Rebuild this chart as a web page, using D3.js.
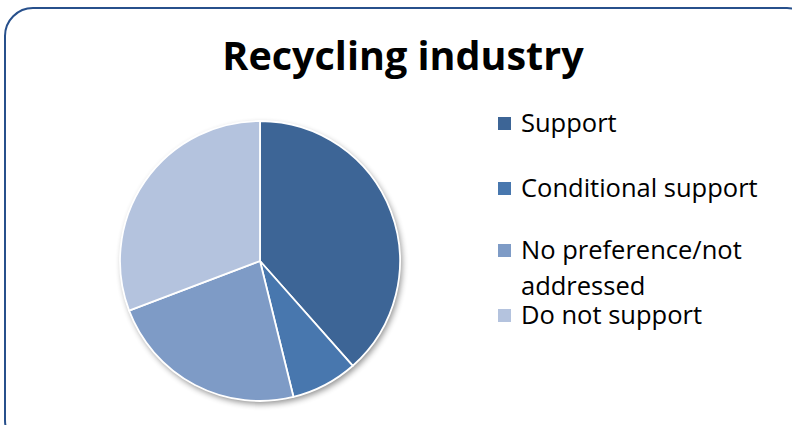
<!DOCTYPE html>
<html>
<head>
<meta charset="utf-8">
<script src="https://cdn.jsdelivr.net/npm/d3@7"></script>
<style>
  html, body { margin: 0; padding: 0; background: #fff; }
  svg { display: block; }
</style>
</head>
<body>
<svg id="chart" width="792" height="425"></svg>
<script>
// Responses on the recycling industry (counts)
const categories = ["Support", "Conditional support", "No preference/not addressed", "Do not support"];
const values = [5, 1, 3, 4];
const legendLines = [["Support"], ["Conditional support"], ["No preference/not", "addressed"], ["Do not support"]];
const colors = ["#3d6596", "#4877ae", "#7e9bc6", "#b4c3de"];
const title = "Recycling industry";

const svg = d3.select("#chart");
const font = "'Open Sans', Lato, sans-serif";

// Panel frame with rounded corners
svg.append("rect")
  .attr("x", 5).attr("y", 8)
  .attr("width", 810).attr("height", 440)
  .attr("rx", 28).attr("ry", 28)
  .attr("fill", "#fff")
  .attr("stroke", "#27508c")
  .attr("stroke-width", 2);

// Title
svg.append("text")
  .attr("x", 403).attr("y", 70)
  .attr("text-anchor", "middle")
  .attr("font-family", font)
  .attr("font-weight", "bold")
  .attr("font-size", 39.5)
  .attr("fill", "#000")
  .text(title);

// Soft drop shadow beneath the pie
const defs = svg.append("defs");
const f = defs.append("filter").attr("id", "shadow")
  .attr("x", "-20%").attr("y", "-20%").attr("width", "140%").attr("height", "140%");
f.append("feGaussianBlur").attr("in", "SourceAlpha").attr("stdDeviation", 3).attr("result", "b");
f.append("feOffset").attr("in", "b").attr("dx", 2).attr("dy", 3).attr("result", "o");
f.append("feComponentTransfer").attr("in", "o").attr("result", "s")
  .append("feFuncA").attr("type", "linear").attr("slope", 0.45);
const m = f.append("feMerge");
m.append("feMergeNode").attr("in", "s");
m.append("feMergeNode").attr("in", "SourceGraphic");

const cx = 260, cy = 261, r = 140;
const pie = d3.pie().sort(null).value(d => d)(values);
const arc = d3.arc().innerRadius(0).outerRadius(r);

const g = svg.append("g").attr("transform", `translate(${cx},${cy})`);
g.append("circle").attr("r", r).attr("fill", "#fff").attr("filter", "url(#shadow)");
g.selectAll("path.slice")
  .data(pie)
  .join("path")
  .attr("class", "slice")
  .attr("d", arc)
  .attr("fill", (d, i) => colors[i])
  .attr("stroke", "#fff")
  .attr("stroke-width", 1.8)
  .attr("stroke-linejoin", "round");

// Legend
const legendY = [132, 197, 259, 324];
const lg = svg.append("g")
  .attr("font-family", font)
  .attr("font-size", 25.5)
  .attr("fill", "#000");
legendLines.forEach((lines, i) => {
  const y = legendY[i];
  lg.append("rect")
    .attr("x", 498).attr("y", y - 15)
    .attr("width", 13).attr("height", 13)
    .attr("fill", colors[i]);
  const t = lg.append("text").attr("x", 521).attr("y", y);
  lines.forEach((ln, k) => {
    t.append("tspan").attr("x", 521).attr("dy", k === 0 ? 0 : 36).text(ln);
  });
});
</script>
</body>
</html>
